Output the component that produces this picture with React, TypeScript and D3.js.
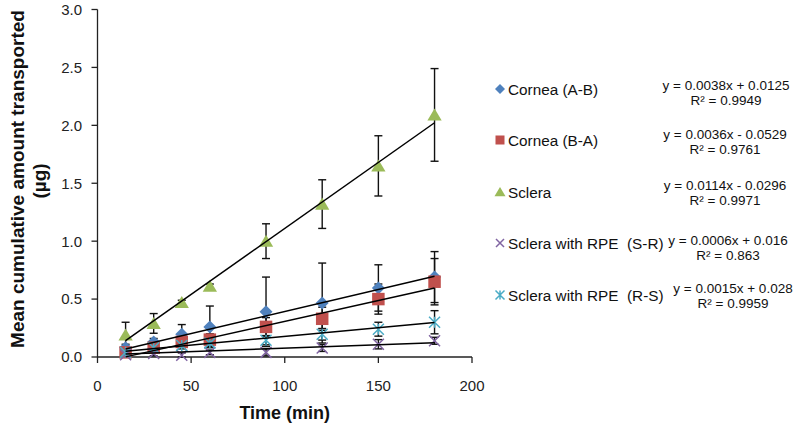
import React from "react";
import * as d3 from "d3";

const times = [15, 30, 45, 60, 90, 120, 150, 180];
const seriesNames = ["Cornea (A-B)", "Cornea (B-A)", "Sclera", "Sclera with RPE  (S-R)", "Sclera with RPE  (R-S)"];
const corneaAB = [0.08, 0.13, 0.196, 0.26, 0.39, 0.466, 0.596, 0.69];
const corneaABErr = [0.03, 0.03, 0.084, 0.18, 0.30, 0.345, 0.20, 0.22];
const corneaBA = [0.04, 0.08, 0.13, 0.15, 0.26, 0.33, 0.50, 0.65];
const corneaBAErr = [0.02, 0.03, 0.04, 0.05, 0.08, 0.10, 0.13, 0.20];
const sclera = [0.19, 0.29, 0.47, 0.61, 1.00, 1.32, 1.65, 2.09];
const scleraErr = [0.11, 0.085, 0.02, 0.02, 0.15, 0.21, 0.26, 0.40];
const scleraSR = [0.02, 0.03, 0.015, 0.04, 0.04, 0.078, 0.11, 0.14];
const scleraSRErr = [0.01, 0.02, 0.02, 0.02, 0.03, 0.03, 0.04, 0.03];
const scleraRS = [0.04, 0.08, 0.10, 0.12, 0.145, 0.196, 0.24, 0.30];
const scleraRSErr = [0.02, 0.03, 0.03, 0.03, 0.04, 0.05, 0.06, 0.10];
const slopes = [0.0038, 0.0036, 0.0114, 0.0006, 0.0015];
const intercepts = [0.0125, -0.0529, -0.0296, 0.016, 0.028];
const equations = ["y = 0.0038x + 0.0125", "y = 0.0036x - 0.0529", "y = 0.0114x - 0.0296", "y = 0.0006x + 0.016", "y = 0.0015x + 0.028"];
const rSquared = ["R² = 0.9949", "R² = 0.9761", "R² = 0.9971", "R² = 0.863", "R² = 0.9959"];
const yTicks = [0, 0.5, 1.0, 1.5, 2.0, 2.5, 3.0];
const xTicks = [0, 50, 100, 150, 200];

const values = [corneaAB, corneaBA, sclera, scleraSR, scleraRS];
const errors = [corneaABErr, corneaBAErr, scleraErr, scleraSRErr, scleraRSErr];
const colors = ["#4F81BD", "#C0504D", "#9BBB59", "#8064A2", "#4BACC6"];
const shapes = ["diamond", "square", "triangle", "x", "star"];

// layout
const legendRowY = [89, 140, 192, 243, 295];
const eqCenterX = [726, 725, 725, 728, 733];
const eqLine1Y = [85, 134, 185, 240, 288];

const x = d3.scaleLinear().domain([0, 200]).range([97.5, 472]);
const y = d3.scaleLinear().domain([0, 3]).range([357, 9.5]);

function Marker({ shape, cx, cy, size, color }: { shape: string; cx: number; cy: number; size: number; color: string }) {
  const h = size / 2;
  if (shape === "diamond") {
    return <path d={`M${cx},${cy - h}L${cx + h},${cy}L${cx},${cy + h}L${cx - h},${cy}Z`} fill={color} />;
  }
  if (shape === "square") {
    return <rect x={cx - h} y={cy - h} width={size} height={size} fill={color} />;
  }
  if (shape === "triangle") {
    return <path d={`M${cx},${cy - h}L${cx + h * 1.1},${cy + h * 0.85}L${cx - h * 1.1},${cy + h * 0.85}Z`} fill={color} />;
  }
  if (shape === "x") {
    return (
      <path d={`M${cx - h},${cy - h}L${cx + h},${cy + h}M${cx - h},${cy + h}L${cx + h},${cy - h}`} stroke={color} strokeWidth={1.5} fill="none" />
    );
  }
  return (
    <path
      d={`M${cx - h},${cy - h}L${cx + h},${cy + h}M${cx - h},${cy + h}L${cx + h},${cy - h}M${cx},${cy - h}L${cx},${cy + h}`}
      stroke={color}
      strokeWidth={1.5}
      fill="none"
    />
  );
}

export default function App() {
  const markerSizes = [13, 12.5, 13, 11, 11];
  const legendSizes = [10, 9, 10, 8, 9];
  return (
    <svg width={800} height={431} style={{ position: "absolute", left: 0, top: 0, background: "#fff" }} fontFamily="'Liberation Sans', Arial, sans-serif">
      {/* axes */}
      <line x1={x(0)} x2={x(0)} y1={y(3)} y2={y(0)} stroke="#222" strokeWidth={1.3} />
      <line x1={x(0)} x2={x(200)} y1={y(0)} y2={y(0)} stroke="#222" strokeWidth={1.3} />
      {yTicks.map((t) => (
        <g key={"yt" + t}>
          <line x1={x(0) - 6} x2={x(0)} y1={y(t)} y2={y(t)} stroke="#222" strokeWidth={1.3} />
          <text x={82} y={y(t)} dy="0.36em" textAnchor="end" fontSize={15} fill="#222">
            {d3.format(".1f")(t)}
          </text>
        </g>
      ))}
      {xTicks.map((t) => (
        <g key={"xt" + t}>
          <line x1={x(t)} x2={x(t)} y1={y(0)} y2={y(0) + 6} stroke="#222" strokeWidth={1.3} />
          <text x={x(t)} y={390.5} textAnchor="middle" fontSize={15} fill="#222">
            {t}
          </text>
        </g>
      ))}
      <text x={x(100)} y={419} textAnchor="middle" fontSize={18} fontWeight="bold" fill="#111">
        Time (min)
      </text>
      <text transform="translate(24,179) rotate(-90)" textAnchor="middle" fontSize={19} fontWeight="bold" fill="#111">
        Mean cumulative amount transported
      </text>
      <text transform="translate(46,181) rotate(-90)" textAnchor="middle" fontSize={19} fontWeight="bold" fill="#111">
        (µg)
      </text>

      {/* error bars */}
      {values.map((vals, si) =>
        vals.map((v, i) => {
          const e = errors[si][i];
          const cx = x(times[i]);
          return (
            <g key={`e${si}-${i}`} stroke="#111" strokeWidth={1.4}>
              <line x1={cx} x2={cx} y1={y(v + e)} y2={y(Math.max(0, v - e))} />
              <line x1={cx - 4} x2={cx + 4} y1={y(v + e)} y2={y(v + e)} />
              <line x1={cx - 4} x2={cx + 4} y1={y(Math.max(0, v - e))} y2={y(Math.max(0, v - e))} />
            </g>
          );
        })
      )}

      {/* markers */}
      {values.map((vals, si) =>
        vals.map((v, i) => (
          <Marker key={`m${si}-${i}`} shape={shapes[si]} cx={x(times[i])} cy={y(v)} size={markerSizes[si]} color={colors[si]} />
        ))
      )}

      {/* trend lines */}
      {slopes.map((s, si) => {
        const x0 = times[0];
        const x1 = times[times.length - 1];
        return (
          <line
            key={"tl" + si}
            x1={x(x0)}
            y1={y(s * x0 + intercepts[si])}
            x2={x(x1)}
            y2={y(s * x1 + intercepts[si])}
            stroke="#000"
            strokeWidth={1.5}
          />
        );
      })}

      {/* legend */}
      {seriesNames.map((name, si) => (
        <g key={"lg" + si}>
          <Marker shape={shapes[si]} cx={500} cy={legendRowY[si]} size={legendSizes[si]} color={colors[si]} />
          <text x={508} y={legendRowY[si]} dy="0.36em" fontSize={15.3} fill="#111" style={{ whiteSpace: "pre" }}>
            {name}
          </text>
          <text x={eqCenterX[si]} y={eqLine1Y[si]} dy="0.36em" textAnchor="middle" fontSize={13.5} fill="#111">
            {equations[si]}
          </text>
          <text x={eqCenterX[si]} y={eqLine1Y[si] + 15} dy="0.36em" textAnchor="middle" fontSize={13.5} fill="#111">
            {rSquared[si]}
          </text>
        </g>
      ))}
    </svg>
  );
}
